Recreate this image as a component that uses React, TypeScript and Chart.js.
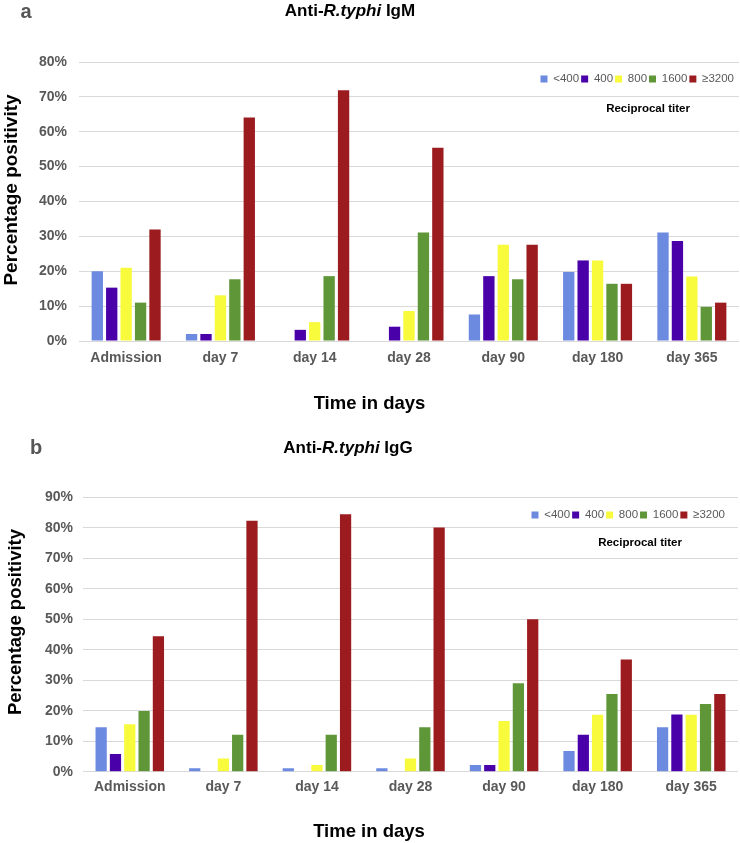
import React, { useEffect, useRef } from "react";
import { Chart, registerables } from "chart.js";

Chart.register(...registerables);

const FONT = "'Liberation Sans', Arial, Helvetica, sans-serif";

const categories = ["Admission", "day 7", "day 14", "day 28", "day 90", "day 180", "day 365"];
const titerLabels = ["<400", "400", "800", "1600", "≥3200"];
const titerColors = ["#6b8ae0", "#4a00a8", "#f8fa3c", "#5f9638", "#9b1b1f"];

// Panel a: anti-R.typhi IgM (% positivity)
const igmBelow400 = [20, 2, 0, 0, 7.6, 19.8, 31.1];
const igm400 = [15.3, 2, 3.2, 4.1, 18.6, 23.1, 28.7];
const igm800 = [21, 13.1, 5.4, 8.6, 27.6, 23.1, 18.5];
const igm1600 = [11, 17.7, 18.6, 31.1, 17.7, 16.4, 9.8];
const igm3200 = [32, 64.1, 71.9, 55.4, 27.6, 16.4, 11];

// Panel b: anti-R.typhi IgG (% positivity)
const iggBelow400 = [14.6, 1.1, 1.1, 1.1, 2.2, 6.8, 14.6];
const igg400 = [5.8, 0, 0, 0, 2.2, 12.1, 18.8];
const igg800 = [15.6, 4.3, 2.2, 4.3, 16.6, 18.7, 18.7];
const igg1600 = [19.9, 12.1, 12.1, 14.6, 29, 25.5, 22.2];
const igg3200 = [44.4, 82.3, 84.4, 80.1, 50, 36.8, 25.5];

const igmMax = 80;
const iggMax = 90;
const tickStep = 10;

type Geo = {
  height: number;
  chartTop: number;
  chartLeft: number;
  padRight: number;
  xAxisHeight: number;
  xTickPad: number;
  yTickPad: number;
  titlePadBottom: number;
  legendOffset: number;
  legendRight: number;
};

const LEGEND_H = 23.5;

function BarPanel({ series, yMax, geo }: { series: number[][]; yMax: number; geo: Geo }) {
  const ref = useRef<HTMLCanvasElement | null>(null);
  useEffect(() => {
    if (!ref.current) return;
    const legendMover = {
      id: "legendMover",
      afterLayout(chart: any) {
        const lg = chart.legend;
        if (!lg) return;
        const h = lg.height;
        lg.top = chart.chartArea.top + geo.legendOffset;
        lg.bottom = lg.top + h;
        lg.right = geo.legendRight;
      },
    };
    const chart = new Chart(ref.current, {
      type: "bar",
      data: {
        labels: categories,
        datasets: series.map((vals, i) => ({
          label: titerLabels[i],
          data: vals,
          backgroundColor: titerColors[i],
          borderWidth: 0,
          categoryPercentage: 0.765,
          barPercentage: 0.785,
        })),
      },
      options: {
        responsive: false,
        animation: false,
        layout: {
          padding: { top: geo.chartTop - LEGEND_H, left: 0, right: geo.padRight, bottom: 0 },
        },
        plugins: {
          legend: {
            display: true,
            position: "top",
            align: "end",
            labels: {
              boxWidth: 7,
              boxHeight: 7,
              padding: 2,
              color: "#595959",
              font: { family: FONT, size: 11.5 },
            },
          },
          title: {
            display: true,
            position: "bottom",
            text: "Time in days",
            color: "#000",
            font: { family: FONT, size: 18.5, weight: "bold" },
            padding: { top: 0, bottom: geo.titlePadBottom },
          },
          tooltip: { enabled: false },
        },
        scales: {
          x: {
            grid: { display: false, drawTicks: false },
            border: { display: false },
            ticks: {
              color: "#595959",
              padding: geo.xTickPad,
              font: { family: FONT, size: 14, weight: "bold" },
            },
            afterFit: (s: any) => {
              s.height = geo.xAxisHeight;
            },
          },
          y: {
            min: 0,
            max: yMax,
            grid: { color: "#d9d9d9", lineWidth: 1, drawTicks: false },
            border: { display: false },
            ticks: {
              stepSize: tickStep,
              color: "#595959",
              padding: geo.yTickPad,
              font: { family: FONT, size: 14, weight: "bold" },
              callback: (v: any) => `${v}%`,
            },
            afterFit: (s: any) => {
              s.width = geo.chartLeft;
            },
          },
        },
      },
      plugins: [legendMover],
    } as any);
    return () => chart.destroy();
  }, []);
  return (
    <canvas
      ref={ref}
      width={740}
      height={geo.height}
      style={{ display: "block", width: 740, height: geo.height }}
    />
  );
}

const center = (x: number, y: number): React.CSSProperties => ({
  position: "absolute",
  left: x,
  top: y,
  transform: "translate(-50%, -50%)",
  whiteSpace: "nowrap",
  lineHeight: 1,
  fontFamily: FONT,
});

const geoA: Geo = {
  height: 420,
  chartTop: 62,
  chartLeft: 79,
  padRight: 1,
  xAxisHeight: 51.9,
  xTickPad: 8.6,
  yTickPad: 12,
  titlePadBottom: 4.9,
  legendOffset: 9.25,
  legendRight: 736,
};

const geoB: Geo = {
  height: 423,
  chartTop: 77.3,
  chartLeft: 83,
  padRight: 2,
  xAxisHeight: 49.1,
  xTickPad: 6.9,
  yTickPad: 10,
  titlePadBottom: 0,
  legendOffset: 9.95,
  legendRight: 727,
};

export default function App() {
  return (
    <div style={{ position: "absolute", left: 0, top: 0, width: 740, height: 843, background: "#fff", overflow: "hidden" }}>
      <div style={{ position: "absolute", left: 0, top: 0 }}>
        <BarPanel series={[igmBelow400, igm400, igm800, igm1600, igm3200]} yMax={igmMax} geo={geoA} />
      </div>
      <div style={{ position: "absolute", left: 0, top: 420 }}>
        <BarPanel series={[iggBelow400, igg400, igg800, igg1600, igg3200]} yMax={iggMax} geo={geoB} />
      </div>

      <div style={{ ...center(26, 11), fontSize: 20, fontWeight: "bold", color: "#555" }}>a</div>
      <div style={{ ...center(350, 10), fontSize: 17, fontWeight: "bold", color: "#000" }}>
        Anti-<i>R.typhi</i> IgM
      </div>
      <div style={{ ...center(648, 109), fontSize: 11.5, fontWeight: "bold", color: "#000" }}>Reciprocal titer</div>
      <div style={{ ...center(10, 190), transform: "translate(-50%, -50%) rotate(-90deg)", fontSize: 19, fontWeight: "bold", color: "#000" }}>
        Percentage positivity
      </div>

      <div style={{ ...center(36, 447), fontSize: 20, fontWeight: "bold", color: "#555" }}>b</div>
      <div style={{ ...center(348, 447), fontSize: 17, fontWeight: "bold", color: "#000" }}>
        Anti-<i>R.typhi</i> IgG
      </div>
      <div style={{ ...center(640, 543), fontSize: 11.5, fontWeight: "bold", color: "#000" }}>Reciprocal titer</div>
      <div style={{ ...center(15, 622), transform: "translate(-50%, -50%) rotate(-90deg)", fontSize: 18.5, fontWeight: "bold", color: "#000" }}>
        Percentage positivity
      </div>
    </div>
  );
}
